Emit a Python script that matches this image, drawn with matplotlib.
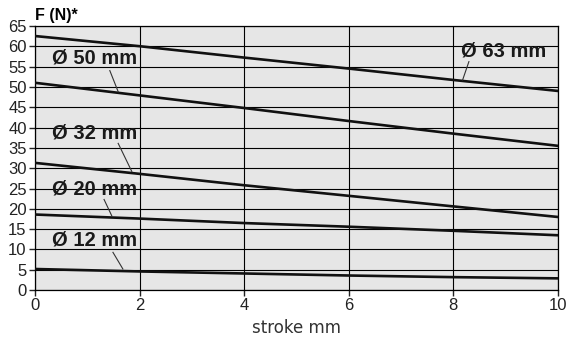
import numpy as np
from matplotlib import pyplot as plt

plt.rcParams['font.family'] = ['Liberation Sans', 'DejaVu Sans']

# datos: fuerza (N) al inicio y al final de la carrera
stroke = [0, 2, 4, 6, 8, 10]
f_63 = [62.5, 60.0, 57.2, 54.5, 51.7, 49.0]
f_50 = [51.0, 47.9, 44.8, 41.6, 38.5, 35.5]
f_32 = [31.3, 28.6, 25.8, 23.2, 20.6, 18.0]
f_20 = [18.6, 17.6, 16.5, 15.6, 14.6, 13.5]
f_12 = [5.2, 4.6, 4.1, 3.6, 3.2, 2.9]

etiquetas = ['Ø 63 mm', 'Ø 50 mm', 'Ø 32 mm', 'Ø 20 mm', 'Ø 12 mm']
# posicion del texto y de la linea guia (x_texto, y_texto, x0, y0, x1, y1)
pos_etiquetas = [(8.15, 58.7, 8.3, 56.2, 8.18, 51.7),
                 (0.33, 57.1, 1.43, 54.0, 1.59, 48.8),
                 (0.33, 38.7, 1.59, 36.1, 1.85, 29.2),
                 (0.33, 25.0, 1.32, 22.3, 1.47, 18.2),
                 (0.33, 12.3, 1.49, 9.3, 1.68, 5.2)]

fig = plt.figure(figsize=(5.75, 3.45), dpi=100)
ax = fig.add_axes([0.061, 0.159, 0.909, 0.766])
ax.set_facecolor('#e6e6e6')

for serie in [f_63, f_50, f_32, f_20, f_12]:
    ax.plot(stroke, serie, color='#111111', lw=1.9, zorder=3)

for txt, (xt, yt, x0, y0, x1, y1) in zip(etiquetas, pos_etiquetas):
    ax.text(xt, yt, txt, fontsize=14.5, fontweight='bold', va='center', ha='left',
            color='#1a1a1a', zorder=4)
    ax.plot([x0, x1], [y0, y1], color='#333333', lw=0.8, zorder=3)

ax.set_xlim(0, 10)
ax.set_ylim(0, 65)
ax.set_xticks(np.arange(0, 11, 2))
ax.set_yticks(np.arange(0, 66, 5))
ax.grid(True, color='black', lw=0.8, zorder=1)
ax.set_axisbelow(True)
for s in ax.spines.values():
    s.set_color('black')
    s.set_linewidth(0.9)
ax.tick_params(labelsize=12, length=4, width=1, pad=2, colors='#222222')

ax.set_xlabel('stroke mm', fontsize=12, color='#333333', labelpad=4,
              family=['DejaVu Sans'])
fig.text(0.061, 0.942, 'F (N)*', fontsize=11.5, fontweight='bold', ha='left', va='baseline')

plt.savefig('out.png', dpi=100)
